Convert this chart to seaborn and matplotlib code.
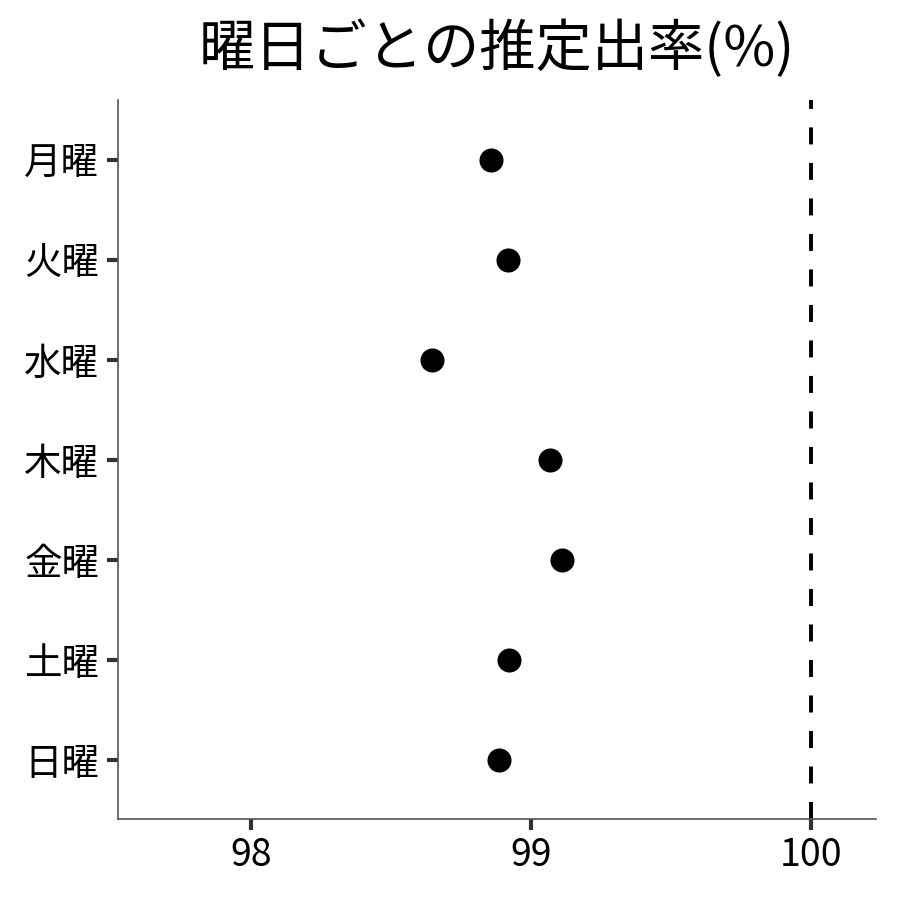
import matplotlib
matplotlib.use("Agg")
import matplotlib.pyplot as plt
import seaborn as sns
import pandas as pd

# Data
days = ["月曜", "火曜", "水曜", "木曜", "金曜", "土曜", "日曜"]
rates = [98.857, 98.918, 98.646, 99.068, 99.111, 98.921, 98.886]
x_ticks = [98, 99, 100]
ref_line = 100

df = pd.DataFrame({"day": days, "rate": rates})

sns.set_theme(style="white")
plt.rcParams["font.family"] = ["Noto Sans CJK JP", "DejaVu Sans"]

fig = plt.figure(figsize=(9, 9), dpi=100)
ax = fig.add_axes([0.131, 0.09, 0.842, 0.799])

sns.scatterplot(data=df, x="rate", y="day", color="black", s=300,
                edgecolor="black", linewidth=0, ax=ax, zorder=3)
ax.axvline(ref_line, color="black", linestyle=(0, (4.37, 4.76)), linewidth=2.8, zorder=2)

ax.set_xlim(97.525, 100.232)
ax.set_ylim(6.59, -0.6)
ax.set_xticks(x_ticks)
ax.set_xticklabels([str(t) for t in x_ticks])
ax.set_xlabel("")
ax.set_ylabel("")
ax.set_title("曜日ごとの推定出率(%)", fontsize=40.5, color="black", pad=24)

for side in ["top", "right"]:
    ax.spines[side].set_visible(False)
for side in ["left", "bottom"]:
    ax.spines[side].set_color("#555555")
    ax.spines[side].set_linewidth(1.2)
ax.tick_params(axis="both", which="both", length=8, width=3, color="#333333",
               labelsize=27, labelcolor="black", left=True, bottom=True)
ax.tick_params(axis="y", pad=5.5)
ax.tick_params(axis="x", pad=4)

fig.savefig("out.png", dpi=100)
